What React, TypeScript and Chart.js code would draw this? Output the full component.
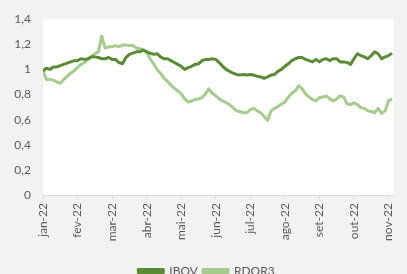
import { useEffect, useRef } from 'react';
import { Chart, registerables } from 'chart.js';

Chart.register(...registerables);

const monthLabels = ['jan-22', 'fev-22', 'mar-22', 'abr-22', 'mai-22', 'jun-22', 'jul-22', 'ago-22', 'set-22', 'out-22', 'nov-22'];
const yTickLabels = ['0', '0,2', '0,4', '0,6', '0,8', '1', '1,2', '1,4'];
const seriesNames = ['IBOV', 'RDOR3'];

// sampled every 0.1 month from 1 Jan 2022
const ibov = [
  0.99, 1.01, 1.0, 1.02, 1.02, 1.03, 1.04, 1.05, 1.06, 1.07,
  1.07, 1.085, 1.08, 1.085, 1.1, 1.1, 1.095, 1.085, 1.085, 1.095,
  1.08, 1.08, 1.055, 1.045, 1.095, 1.12, 1.13, 1.14, 1.14, 1.155,
  1.14, 1.13, 1.12, 1.125, 1.1, 1.085, 1.085, 1.07, 1.055, 1.04,
  1.025, 1.0, 1.015, 1.025, 1.04, 1.045, 1.07, 1.08, 1.08, 1.085,
  1.08, 1.055, 1.025, 1.0, 0.985, 0.97, 0.96, 0.955, 0.96, 0.955,
  0.96, 0.955, 0.945, 0.94, 0.93, 0.94, 0.955, 0.96, 0.985, 1.0,
  1.025, 1.045, 1.07, 1.085, 1.095, 1.095, 1.08, 1.07, 1.06, 1.08,
  1.06, 1.08, 1.085, 1.07, 1.085, 1.085, 1.06, 1.06, 1.055, 1.04,
  1.085, 1.125, 1.11, 1.1, 1.085, 1.11, 1.14, 1.125, 1.085, 1.1,
  1.11, 1.13,
];

const rdor3 = [
  0.99, 0.92, 0.92, 0.915, 0.9, 0.89, 0.92, 0.945, 0.97, 0.99,
  1.015, 1.04, 1.055, 1.08, 1.1, 1.125, 1.14, 1.265, 1.17, 1.18,
  1.18, 1.19, 1.18, 1.195, 1.195, 1.19, 1.19, 1.17, 1.165, 1.155,
  1.14, 1.085, 1.045, 1.0, 0.97, 0.93, 0.905, 0.875, 0.85, 0.83,
  0.805, 0.765, 0.74, 0.75, 0.76, 0.765, 0.775, 0.805, 0.845, 0.81,
  0.79, 0.765, 0.75, 0.735, 0.72, 0.695, 0.67, 0.665, 0.655, 0.655,
  0.68, 0.69, 0.67, 0.655, 0.625, 0.595, 0.67, 0.69, 0.705, 0.725,
  0.74, 0.78, 0.81, 0.83, 0.87, 0.845, 0.805, 0.78, 0.76, 0.75,
  0.775, 0.78, 0.79, 0.765, 0.75, 0.765, 0.79, 0.78, 0.725, 0.72,
  0.735, 0.72, 0.695, 0.69, 0.67, 0.665, 0.655, 0.69, 0.65, 0.67,
  0.75, 0.765,
];

const toPoints = (vals: number[]) => vals.map((v, i) => ({ x: i / 10, y: v }));

const plotBg = {
  id: 'plotBg',
  beforeDraw(chart: any) {
    const { ctx, chartArea } = chart;
    ctx.save();
    ctx.fillStyle = '#ffffff';
    ctx.fillRect(chartArea.left, chartArea.top, chartArea.right - chartArea.left, chartArea.bottom - chartArea.top);
    ctx.restore();
  },
};

export default function App() {
  const ref = useRef<HTMLCanvasElement | null>(null);

  useEffect(() => {
    if (!ref.current) return;
    const font = { family: 'Lato', size: 12 };
    const chart = new Chart(ref.current, {
      type: 'line',
      data: {
        datasets: [
          {
            label: seriesNames[0],
            data: toPoints(ibov),
            borderColor: '#5a8a34',
            backgroundColor: '#5a8a34',
            borderWidth: 3,
            pointRadius: 0,
            tension: 0,
            borderJoinStyle: 'round',
          },
          {
            label: seriesNames[1],
            data: toPoints(rdor3),
            borderColor: '#a5cc8d',
            backgroundColor: '#a5cc8d',
            borderWidth: 3,
            pointRadius: 0,
            tension: 0,
            borderJoinStyle: 'round',
          },
        ],
      },
      options: {
        responsive: false,
        animation: false,
        layout: { padding: { top: 17, right: 4, left: 10, bottom: 0 } },
        plugins: {
          tooltip: { enabled: false },
          legend: {
            position: 'bottom',
            labels: {
              font,
              color: '#595959',
              boxWidth: 25,
              boxHeight: 3,
              padding: 5,
            },
          },
        },
        scales: {
          x: {
            type: 'linear',
            min: 0,
            max: 10.15,
            afterBuildTicks: (scale: any) => {
              scale.ticks = monthLabels.map((_, i) => ({ value: i }));
            },
            afterFit: (scale: any) => {
              scale.height = 65;
            },
            ticks: {
              font,
              color: '#595959',
              minRotation: 90,
              maxRotation: 90,
              autoSkip: false,
              padding: 4,
              callback: (v: any) => monthLabels[Math.round(Number(v))] ?? '',
            },
            grid: {
              drawOnChartArea: false,
              drawTicks: true,
              tickLength: 4,
              color: '#d9d9d9',
            },
            border: { display: true, color: '#d9d9d9' },
          },
          y: {
            min: 0,
            max: 1.4,
            afterBuildTicks: (scale: any) => {
              scale.ticks = yTickLabels.map((_, i) => ({ value: i * 0.2 }));
            },
            afterFit: (scale: any) => {
              scale.width = 33;
            },
            ticks: {
              font,
              color: '#595959',
              padding: 12,
              callback: (_v: any, i: number) => yTickLabels[i],
            },
            grid: { display: false, drawTicks: false },
            border: { display: false },
          },
        },
      },
      plugins: [plotBg],
    });
    return () => chart.destroy();
  }, []);

  return (
    <div
      style={{
        position: 'fixed',
        left: 0,
        top: 0,
        width: 407,
        height: 274,
        overflow: 'hidden',
        background: '#f2f2f2',
      }}
    >
      <canvas ref={ref} width={407} height={287} style={{ display: 'block', width: 407, height: 287 }} />
    </div>
  );
}
